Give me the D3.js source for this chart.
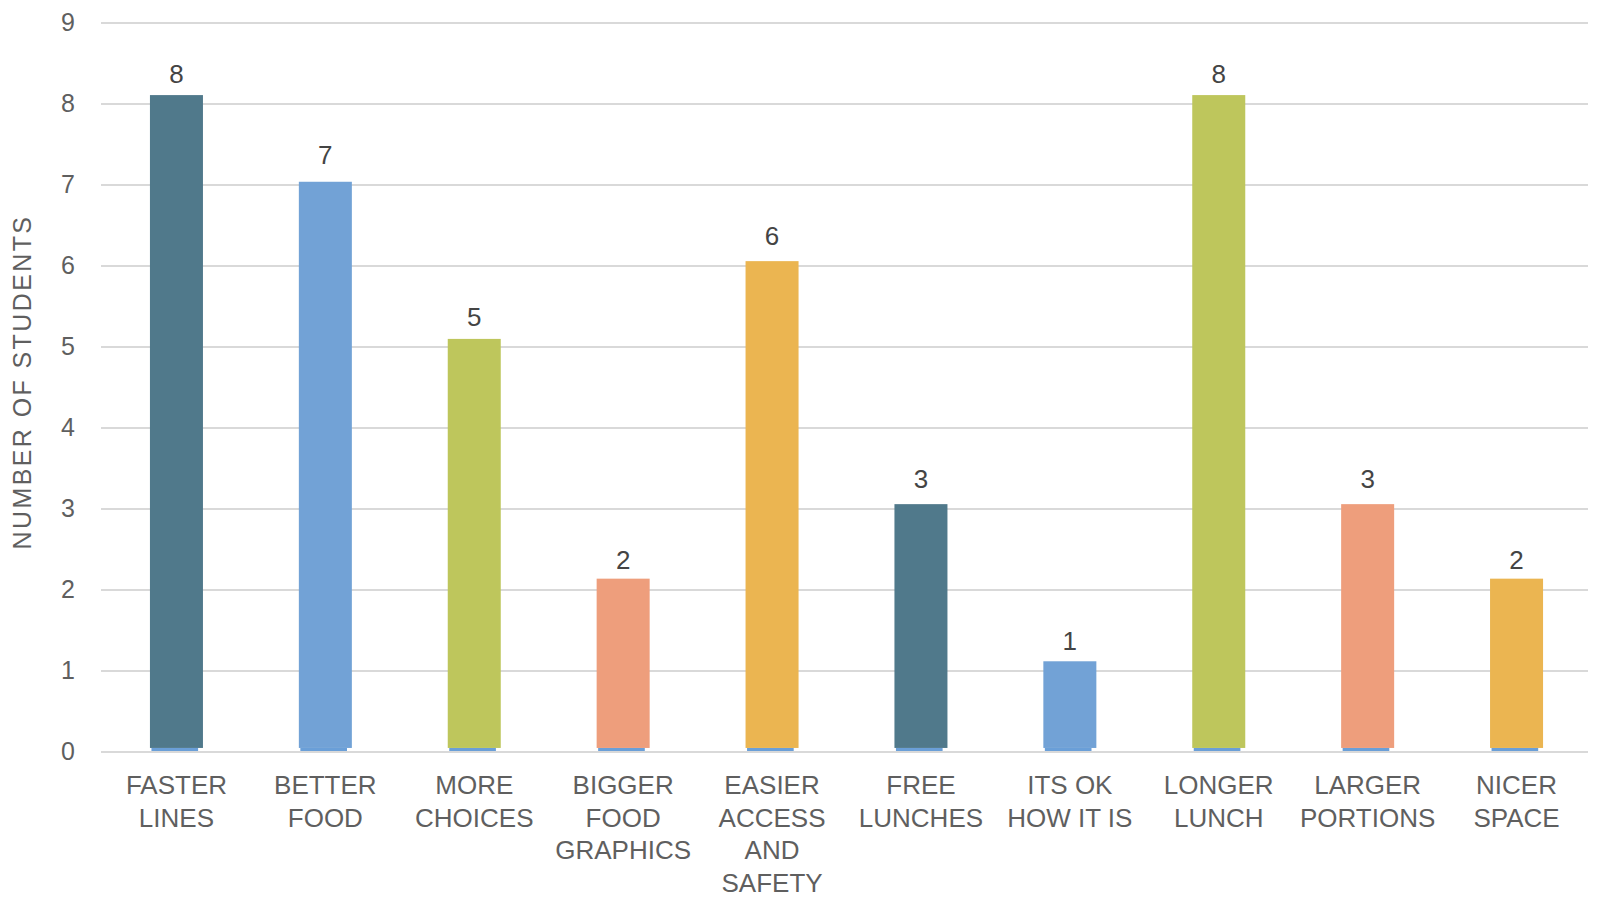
<!DOCTYPE html>
<html>
<head>
<meta charset="utf-8">
<script src="https://cdn.jsdelivr.net/npm/d3@7"></script>
<style>
  body { margin: 0; background: #fff; }
  svg { display: block; font-family: "Liberation Sans", Arial, sans-serif; }
</style>
</head>
<body>
<div id="chart"></div>
<script>
// données
const categories = ["FASTER\nLINES", "BETTER\nFOOD", "MORE\nCHOICES", "BIGGER\nFOOD\nGRAPHICS",
  "EASIER\nACCESS\nAND\nSAFETY", "FREE\nLUNCHES", "ITS OK\nHOW IT IS", "LONGER\nLUNCH",
  "LARGER\nPORTIONS", "NICER\nSPACE"];
const counts = [8, 7, 5, 2, 6, 3, 1, 8, 3, 2];
const barHeights = [8.06, 6.99, 5.05, 2.09, 6.01, 3.01, 1.07, 8.06, 3.01, 2.09];
const baseValues = [0.05, 0.05, 0.05, 0.05, 0.05, 0.05, 0.05, 0.05, 0.05, 0.05];
const yTicks = [0, 1, 2, 3, 4, 5, 6, 7, 8, 9];
const palette = ["#50798b", "#72a2d6", "#bec65c", "#ee9e7c", "#ebb551"];

const width = 1613, height = 908;

const svg = d3.select("#chart").append("svg")
    .attr("width", width)
    .attr("height", height);

const x = d3.scaleBand()
    .domain(categories)
    .range([102, 1591])
    .paddingInner(0.644)
    .paddingOuter(0.322);

const y = d3.scaleLinear()
    .domain([0, 9])
    .range([752, 23]);

// grille
svg.append("g").selectAll("line")
    .data(yTicks)
    .enter()
    .append("line")
    .attr("x1", 101)
    .attr("x2", 1588)
    .attr("y1", d => y(d))
    .attr("y2", d => y(d))
    .attr("stroke", "#d9d9d9")
    .attr("stroke-width", 1.8);

// étiquettes de l'axe Y
svg.append("g").selectAll("text")
    .data(yTicks)
    .enter()
    .append("text")
    .attr("x", 75)
    .attr("y", d => y(d) + 8)
    .attr("text-anchor", "end")
    .attr("font-size", 25)
    .attr("fill", "#5f5f5f")
    .text(d => d);

// titre de l'axe Y
svg.append("text")
    .attr("transform", "translate(31,382) rotate(-90)")
    .attr("text-anchor", "middle")
    .attr("font-size", 25)
    .attr("letter-spacing", 2.4)
    .attr("fill", "#5f5f5f")
    .text("NUMBER OF STUDENTS");

// barres
const bars = svg.append("g").selectAll("g")
    .data(categories)
    .enter()
    .append("g");

bars.append("rect")
    .attr("x", d => x(d) + 1.5)
    .attr("y", (d, i) => y(baseValues[i]))
    .attr("width", x.bandwidth() * 0.88)
    .attr("height", (d, i) => y(0) - y(baseValues[i]) - 1)
    .attr("fill", "#6a9fd8");

bars.append("rect")
    .attr("x", d => x(d))
    .attr("y", (d, i) => y(baseValues[i] + barHeights[i]))
    .attr("width", x.bandwidth())
    .attr("height", (d, i) => y(baseValues[i]) - y(baseValues[i] + barHeights[i]))
    .attr("fill", (d, i) => palette[i % palette.length]);

// valeurs
bars.append("text")
    .attr("x", d => x(d) + x.bandwidth() / 2)
    .attr("y", (d, i) => y(counts[i]) - 21)
    .attr("text-anchor", "middle")
    .attr("font-size", 26)
    .attr("fill", "#444")
    .text((d, i) => counts[i]);

// étiquettes des catégories
const labels = svg.append("g").selectAll("text")
    .data(categories)
    .enter()
    .append("text")
    .attr("text-anchor", "middle")
    .attr("font-size", 26)
    .attr("fill", "#5f5f5f");

labels.selectAll("tspan")
    .data(d => d.split("\n").map(t => ({ t: t, cat: d })))
    .enter()
    .append("tspan")
    .attr("x", d => x(d.cat) + x.bandwidth() / 2)
    .attr("y", (d, i) => 794 + i * 32.7)
    .text(d => d.t);
</script>
</body>
</html>
